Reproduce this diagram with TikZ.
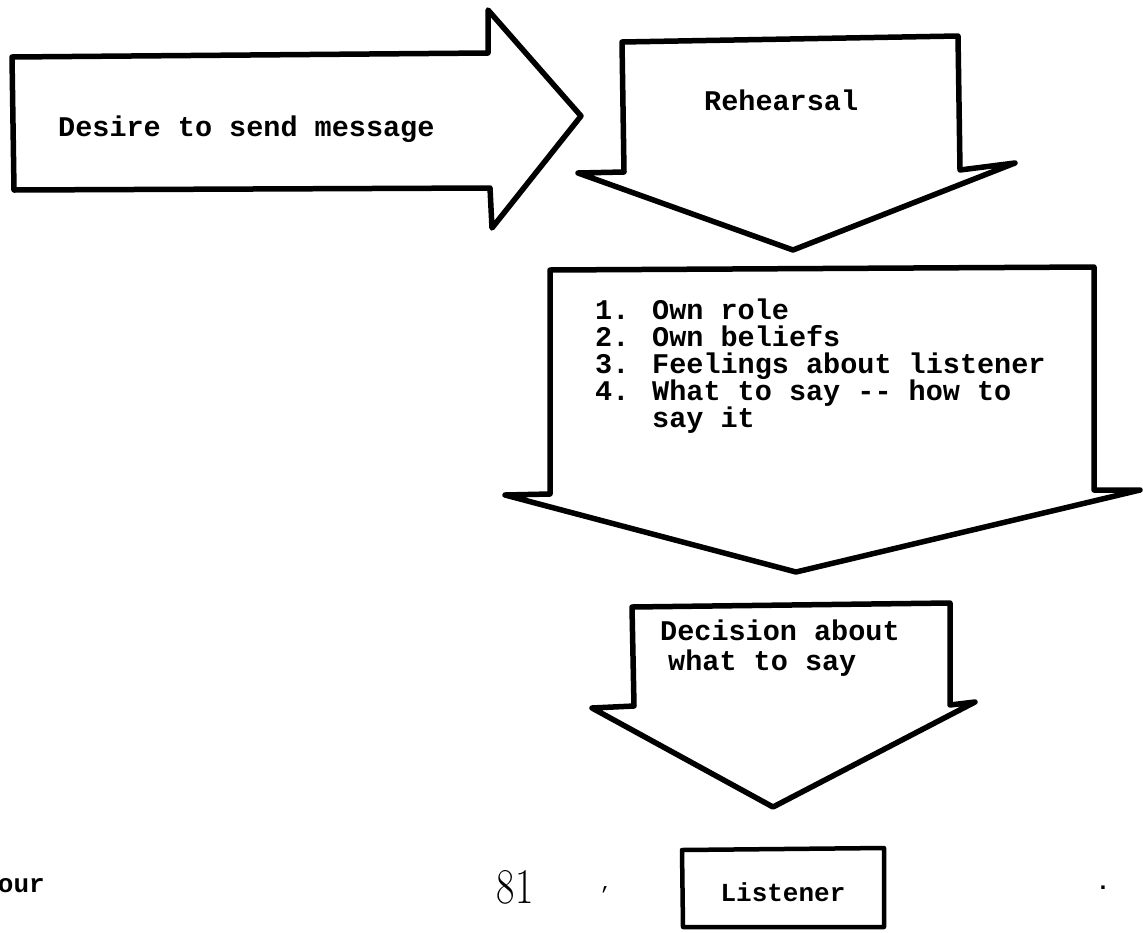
\documentclass[tikz,border=0pt]{standalone}
\usepackage{fontspec}
\newfontfamily\tw{Liberation Mono}
\begin{document}
\begin{tikzpicture}[x=1pt,y=-1pt,
  arrowshape/.style={draw=black, line width=5.5pt, line join=round, fill=white},
  lbl/.style={font=\tw\bfseries\fontsize{28.5}{28}\selectfont, inner sep=0pt, anchor=base west}]
\useasboundingbox (0,0) rectangle (1143,932);
% arrow 1
\draw[arrowshape] (12,57) -- (488,53) -- (488,10) -- (581,116) -- (492,228) -- (490,188) -- (14,190) -- cycle;
% arrow 2
\draw[arrowshape] (622,42) -- (958,36) -- (960,170) -- (1015,163) -- (793,250) -- (578,173) -- (624,172) -- cycle;
% arrow 3
\draw[arrowshape] (550,270) -- (1094,267) -- (1094,490) -- (1140,490) -- (796,572) -- (505,495) -- (550,494) -- cycle;
% arrow 4
\draw[arrowshape] (632,607) -- (950,603) -- (950,705) -- (975,702) -- (773,807) -- (592,708) -- (634,706) -- cycle;
% listener box
\draw[line width=4.5pt, line join=round] (682,850) -- (884,848) -- (884,927) -- (683,927) -- cycle;

\node[lbl] (desire) at (58,136) {Desire to send message};
\node[lbl] (reh) at (704,110) {Rehearsal};
\node[lbl] (l1) at (595,319) {1. Own role};
\node[lbl] (l2) at (595,346) {2. Own beliefs};
\node[lbl] (l3) at (595,373) {3. Feelings about listener};
\node[lbl] (l4) at (595,400) {4. What to say -{}- how to};
\node[lbl] (l5) at (595,427) {\phantom{4. }say it};
\node[lbl] (d1) at (660,640) {Decision about};
\node[lbl] (d2) at (668,670) {what to say};
\node[lbl, font=\tw\bfseries\fontsize{26}{26}\selectfont, anchor=base] (lis) at (783,901) {Listener};
\node[font=\fontsize{50}{50}\selectfont, inner sep=0pt] (pg) at (515,887) {\scalebox{0.8}[1]{81}};
\node[font=\tw\bfseries\fontsize{26}{26}\selectfont, inner sep=0pt, anchor=east] (our) at (45,886) {our};
\node[font=\tw\fontsize{20}{20}\selectfont, inner sep=0pt] (c1) at (606,890) {,};
\node[font=\tw\bfseries\fontsize{24}{24}\selectfont, inner sep=0pt] (c2) at (1103,888) {.};
\end{tikzpicture}
\end{document}
